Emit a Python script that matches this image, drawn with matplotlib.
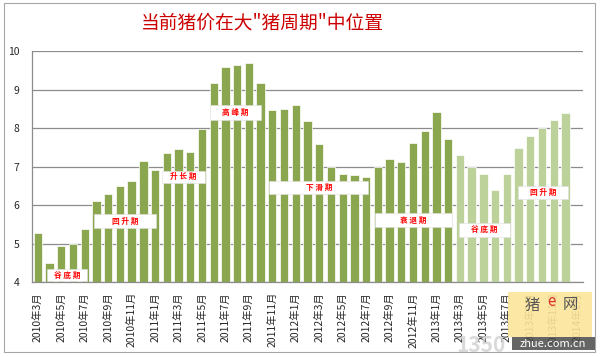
""" Pig price cycle chart (bar chart, Excel style) """
import matplotlib
matplotlib.use('Agg')
import matplotlib.pyplot as plt
from matplotlib.patches import Rectangle
import numpy as np

plt.rcParams['font.family'] = ['Noto Sans CJK SC', 'DejaVu Sans']

# monthly pig price, 2010-03 .. 2013-12 (last category 2014-01 is empty)
months = []
for yr in range(2010, 2015):
    for mo in range(1, 13):
        if (yr == 2010 and mo < 3) or (yr == 2014 and mo > 1):
            continue
        months.append(f'{yr}年{mo}月')

prices_hist = [5.27, 4.49, 4.95, 5.00, 5.38, 6.10, 6.28, 6.51, 6.64, 7.14,
               6.92, 7.36, 7.46, 7.38, 7.98, 9.17, 9.59, 9.64, 9.68, 9.17,
               8.46, 8.49, 8.59, 8.19, 7.58, 7.00, 6.81, 6.79, 6.72, 6.99,
               7.21, 7.11, 7.61, 7.92, 8.42, 7.72]
prices_proj = [7.30, 7.00, 6.81, 6.39, 6.81, 7.49, 7.80, 8.01, 8.20, 8.39]

# phase labels: text, centre x, centre y, box width, box height (data units)
phase_text = ['谷 底 期', '回 升 期', '升 长 期', '高 峰 期', '下 滑 期', '衰 退 期', '谷 底 期', '回 升 期']
phase_x = [2.49, 7.44, 12.42, 16.86, 23.97, 32.04, 38.10, 43.10]
phase_y = [4.19, 5.585, 6.735, 8.405, 6.455, 5.615, 5.365, 6.335]
phase_w = [3.41, 5.27, 3.67, 4.35, 8.45, 6.57, 4.35, 4.27]
phase_h = [0.31, 0.37, 0.31, 0.39, 0.35, 0.37, 0.37, 0.33]

title = '当前猪价在大"猪周期"中位置'

dark_green = '#8AA64F'
light_green = '#BDD29B'

fig = plt.figure(figsize=(6.0, 3.57), dpi=100, facecolor='white')

# chart border
fig.add_artist(Rectangle((4 / 600, 1 - 352 / 357), 591 / 600, 349 / 357,
                         transform=fig.transFigure, fill=False,
                         edgecolor='#a6a6a6', linewidth=0.8))

ax = fig.add_axes([32 / 600, 74.7 / 357, 551 / 600, 231.3 / 357])

n_hist = len(prices_hist)
x_hist = np.arange(n_hist)
x_proj = np.arange(n_hist, n_hist + len(prices_proj))

ax.bar(x_hist, np.array(prices_hist) - 4, bottom=4, width=0.71,
       color=dark_green, edgecolor='white', linewidth=0.5, zorder=2)
ax.bar(x_proj, np.array(prices_proj) - 4, bottom=4, width=0.71,
       color=light_green, edgecolor='white', linewidth=0.5, zorder=2)

ax.set_xlim(-0.5, len(months) - 0.5)
ax.set_ylim(4, 10)
ax.set_yticks(range(4, 11))
ax.yaxis.grid(True, color='#8c8c8c', linewidth=0.9, zorder=1)
ax.set_axisbelow(True)

ax.set_xticks(np.arange(0, len(months), 2))
ax.set_xticklabels(months[::2], rotation=90, fontsize=7.5, color='#262626')
ax.tick_params(axis='x', length=0, pad=7)
ax.tick_params(axis='y', length=0, pad=9, labelsize=7.5, labelcolor='#262626')

for side in ['top', 'right']:
    ax.spines[side].set_visible(False)
ax.spines['left'].set_color('#8c8c8c')
ax.spines['bottom'].set_color('#8c8c8c')
ax.spines['left'].set_linewidth(0.9)
ax.spines['bottom'].set_linewidth(0.9)

for t, cx, cy, w, h in zip(phase_text, phase_x, phase_y, phase_w, phase_h):
    ax.add_patch(Rectangle((cx - w / 2, cy - h / 2), w, h, facecolor='white',
                           edgecolor='#e0e0e0', linewidth=0.4, zorder=3))
    ax.text(cx, cy, t, ha='center', va='center', fontsize=5.5,
            fontweight='bold', color='#ff0000', zorder=4)

fig.text(262 / 600, 1 - 23 / 357, title, ha='center', va='center',
         fontsize=13.5, fontweight='medium', color='#cc0000')

# site watermark in the lower right corner
fig.text(505 / 600, 1 - 346 / 357, '1350', ha='right', va='center',
         fontsize=15, fontweight='bold', color='#d0d0d0', alpha=0.8)
fig.add_artist(Rectangle((508 / 600, 1 - 337 / 357), 84 / 600, 45 / 357,
                         transform=fig.transFigure, facecolor='#fde59a',
                         edgecolor='none', alpha=0.9, zorder=5))
fig.text(532 / 600, 1 - 305 / 357, '猪', ha='center', va='center',
         fontsize=11, color='#555555', zorder=6)
fig.text(551 / 600, 1 - 302 / 357, 'e', ha='center', va='center',
         fontsize=11, style='italic', color='#e03030', zorder=6)
fig.text(570 / 600, 1 - 305 / 357, '网', ha='center', va='center',
         fontsize=11, color='#555555', zorder=6)
fig.add_artist(Rectangle((512 / 600, 1 - 350 / 357), 83 / 600, 13 / 357,
                         transform=fig.transFigure, facecolor='#4a4a4a',
                         edgecolor='none', alpha=0.85, zorder=5))
fig.text(553 / 600, 1 - 344 / 357, 'zhue.com.cn', ha='center', va='center',
         fontsize=8, color='white', zorder=6)

fig.savefig('out.png', dpi=100, facecolor='white')
plt.close(fig)
